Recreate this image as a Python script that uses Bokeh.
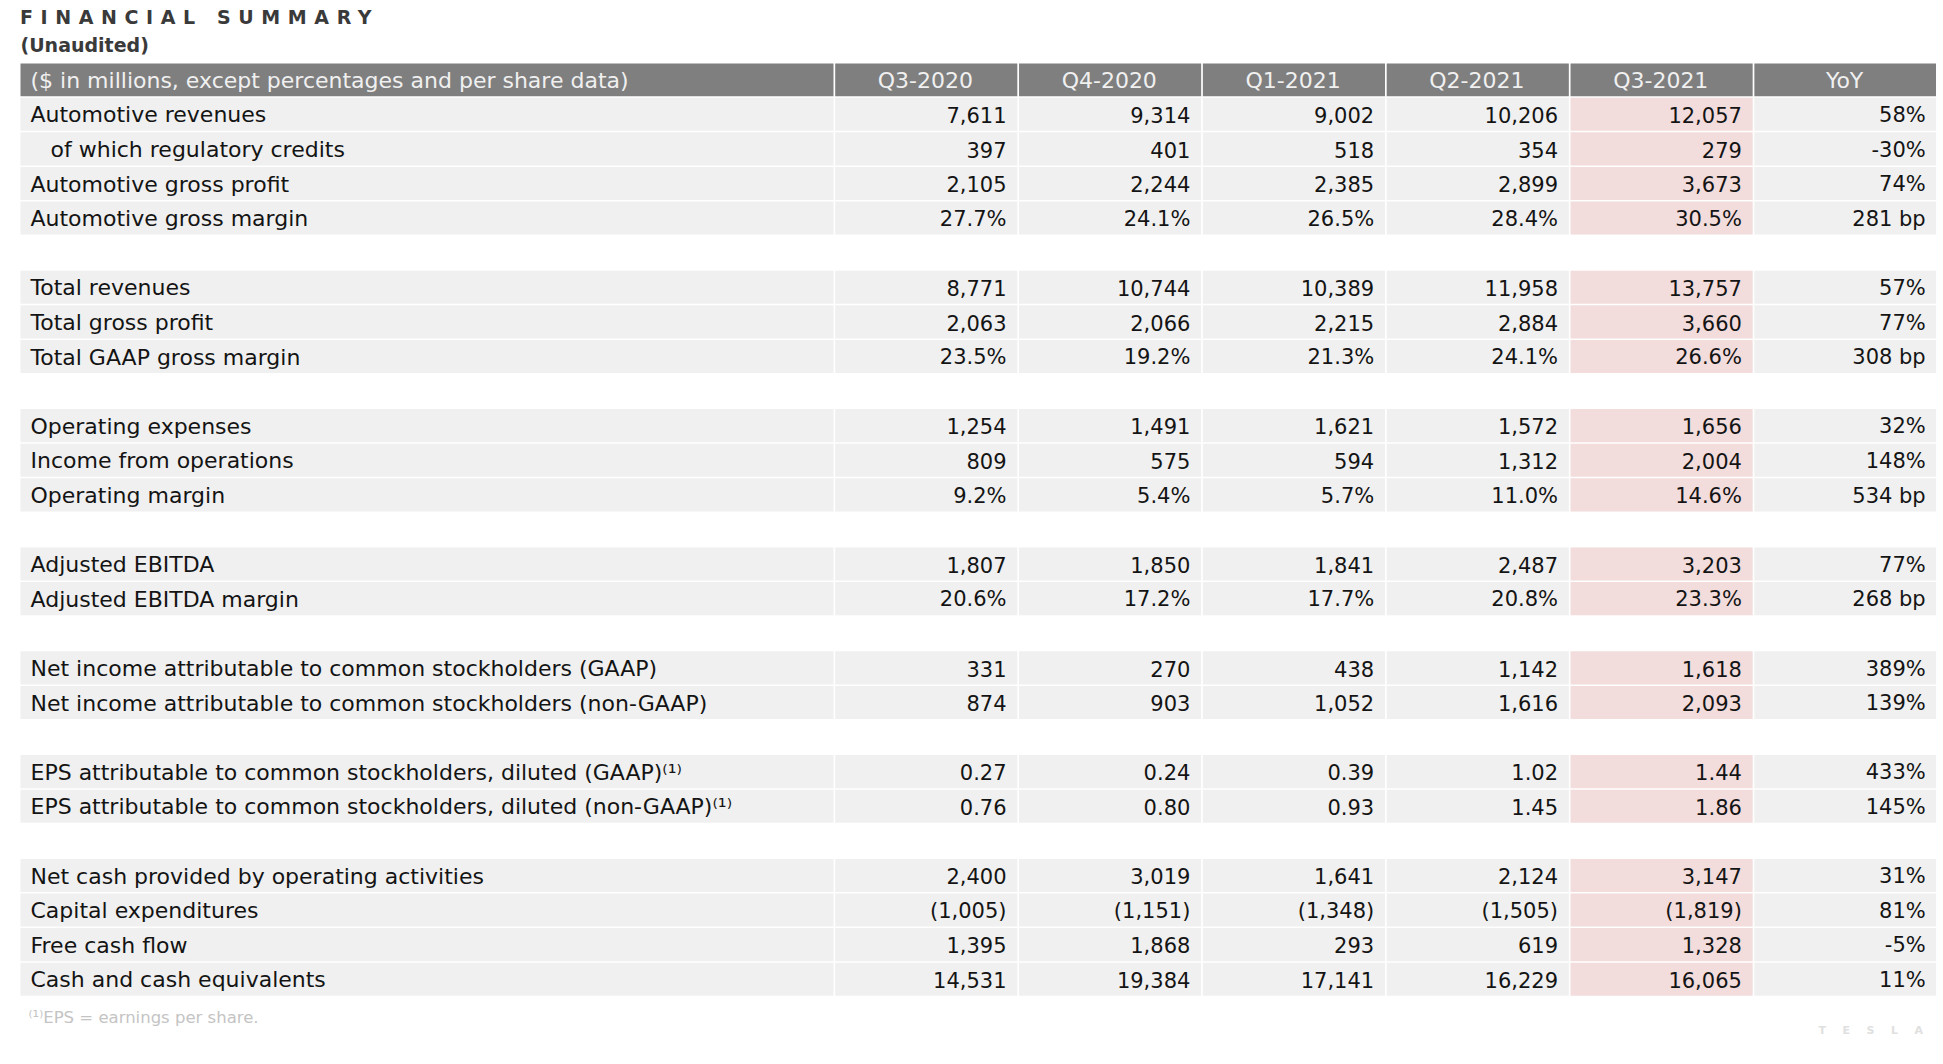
from bokeh.plotting import figure
from bokeh.models import Range1d, Div
from bokeh.layouts import column
from bokeh.core.properties import value
from bokeh.embed import file_html
from bokeh.resources import INLINE

# ---------------- data ----------------
title_text = "FINANCIAL SUMMARY"
subtitle_text = "(Unaudited)"
header_label = "($ in millions, except percentages and per share data)"
periods = ["Q3-2020", "Q4-2020", "Q1-2021", "Q2-2021", "Q3-2021", "YoY"]

row_labels = [
    "Automotive revenues",
    "of which regulatory credits",
    "Automotive gross profit",
    "Automotive gross margin",
    "Total revenues",
    "Total gross profit",
    "Total GAAP gross margin",
    "Operating expenses",
    "Income from operations",
    "Operating margin",
    "Adjusted EBITDA",
    "Adjusted EBITDA margin",
    "Net income attributable to common stockholders (GAAP)",
    "Net income attributable to common stockholders (non-GAAP)",
    "EPS attributable to common stockholders, diluted (GAAP)\u207d\u00b9\u207e",
    "EPS attributable to common stockholders, diluted (non-GAAP)\u207d\u00b9\u207e",
    "Net cash provided by operating activities",
    "Capital expenditures",
    "Free cash flow",
    "Cash and cash equivalents",
]
indented = ["of which regulatory credits"]
group_sizes = [4, 3, 3, 2, 2, 2, 4]

q3_2020 = ["7,611", "397", "2,105", "27.7%", "8,771", "2,063", "23.5%", "1,254", "809", "9.2%",
           "1,807", "20.6%", "331", "874", "0.27", "0.76", "2,400", "(1,005)", "1,395", "14,531"]
q4_2020 = ["9,314", "401", "2,244", "24.1%", "10,744", "2,066", "19.2%", "1,491", "575", "5.4%",
           "1,850", "17.2%", "270", "903", "0.24", "0.80", "3,019", "(1,151)", "1,868", "19,384"]
q1_2021 = ["9,002", "518", "2,385", "26.5%", "10,389", "2,215", "21.3%", "1,621", "594", "5.7%",
           "1,841", "17.7%", "438", "1,052", "0.39", "0.93", "1,641", "(1,348)", "293", "17,141"]
q2_2021 = ["10,206", "354", "2,899", "28.4%", "11,958", "2,884", "24.1%", "1,572", "1,312", "11.0%",
           "2,487", "20.8%", "1,142", "1,616", "1.02", "1.45", "2,124", "(1,505)", "619", "16,229"]
q3_2021 = ["12,057", "279", "3,673", "30.5%", "13,757", "3,660", "26.6%", "1,656", "2,004", "14.6%",
           "3,203", "23.3%", "1,618", "2,093", "1.44", "1.86", "3,147", "(1,819)", "1,328", "16,065"]
yoy = ["58%", "-30%", "74%", "281 bp", "57%", "77%", "308 bp", "32%", "148%", "534 bp",
       "77%", "268 bp", "389%", "139%", "433%", "145%", "31%", "81%", "-5%", "11%"]

footnote = "\u207d\u00b9\u207eEPS = earnings per share."
logo_text = "T\u2002\u2002\u2002E\u2002\u2002\u2002S\u2002\u2002\u2002L\u2002\u2002\u2002A"

# ---------------- layout / styles ----------------
FONT = "DejaVu Sans"
TXT = "#141414"
CELL = "#f0f0f0"
HILITE = "#f2dcdc"
HEAD_BG = "#7f7f7f"
HEAD_TXT = "#f0f0f0"

X0, LABEL_R, TABLE_R = 20.0, 833.0, 1936.0
COL_W = (TABLE_R - LABEL_R) / 6
VGAP = 1.7
HEAD_TOP, HEAD_BOT = 63.0, 95.7
PITCH = 34.6
HGAP = 1.5

TOP_PAGE = 30  # figure top in page coords (Bokeh's page template has no body margin)
W, H = 1936, 1030

p = figure(width=W, height=H, output_backend="svg", toolbar_location=None,
           x_range=Range1d(0, W), y_range=Range1d(TOP_PAGE + H, TOP_PAGE),
           min_border=0, outline_line_color=None)
p.axis.visible = False
p.grid.visible = False
p.background_fill_color = "white"
p.border_fill_color = "white"

# slot index of each data row (blank slot between groups)
slots = []
k = 0
for g, n in enumerate(group_sizes):
    for _ in range(n):
        slots.append(k)
        k += 1
    k += 1

col_values = [q3_2020, q4_2020, q1_2021, q2_2021, q3_2021, yoy]

# ---- cells ----
cl, cr, ct, cb, cc = [], [], [], [], []
for i, s in enumerate(slots):
    top = HEAD_BOT + s * PITCH + HGAP
    bot = HEAD_BOT + (s + 1) * PITCH
    cl.append(X0); cr.append(LABEL_R); ct.append(top); cb.append(bot); cc.append(CELL)
    for j in range(6):
        cl.append(LABEL_R + VGAP + j * COL_W)
        cr.append(LABEL_R + (j + 1) * COL_W)
        ct.append(top); cb.append(bot)
        cc.append(HILITE if j == 4 else CELL)
# header cells
cl.append(X0); cr.append(LABEL_R); ct.append(HEAD_TOP); cb.append(HEAD_BOT); cc.append(HEAD_BG)
for j in range(6):
    cl.append(LABEL_R + VGAP + j * COL_W)
    cr.append(LABEL_R + (j + 1) * COL_W)
    ct.append(HEAD_TOP); cb.append(HEAD_BOT); cc.append(HEAD_BG)

p.quad(left=cl, right=cr, top=ct, bottom=cb, fill_color=cc, line_color=None)

# ---- header texts ----
head_y = (HEAD_TOP + HEAD_BOT) / 2 + 0.8
p.text(x=[30], y=[head_y], text=[header_label], text_font=value(FONT), text_font_size="22px",
       text_color=HEAD_TXT, text_align="left", text_baseline="alphabetic")
p.text(x=[LABEL_R + (j + 0.5) * COL_W for j in range(6)], y=[head_y] * 6, text=periods,
       text_font=value(FONT), text_font_size="22px", text_color=HEAD_TXT,
       text_align="center", text_baseline="alphabetic")

# ---- row labels ----
lx, ly = [], []
for i, s in enumerate(slots):
    lx.append(50 if row_labels[i] in indented else 30)
    ly.append(HEAD_BOT + (s + 0.5) * PITCH + 1.4)
p.text(x=lx, y=ly, text=row_labels, text_font=value(FONT), text_font_size="22px",
       text_color=TXT, text_align="left", text_baseline="alphabetic")

# ---- values ----
vx, vy, vt = [], [], []
for j, vals in enumerate(col_values):
    for i, s in enumerate(slots):
        vx.append(LABEL_R + (j + 1) * COL_W - 10.8)
        vy.append(HEAD_BOT + (s + 0.5) * PITCH + 1.4)
        vt.append(vals[i])
p.text(x=vx, y=vy, text=vt, text_font=value(FONT), text_font_size="21px",
       text_color=TXT, text_align="right", text_baseline="alphabetic")

# ---- subtitle, footnote, logo ----
p.text(x=[20], y=[44], text=[subtitle_text], text_font=value(FONT), text_font_size="19px",
       text_font_style="bold", text_color="#3a3a3a", text_align="left", text_baseline="alphabetic")
p.text(x=[28], y=[1017], text=[footnote], text_font=value(FONT), text_font_size="16.5px",
       text_color="#c4c4c4", text_align="left", text_baseline="alphabetic")
p.text(x=[1818], y=[1030], text=[logo_text], text_font=value(FONT), text_font_size="11px",
       text_font_style="bold", text_color="#e0e0e0", text_align="left", text_baseline="alphabetic")

title = Div(text=title_text, width=W, height=TOP_PAGE, margin=(0, 0, 0, 0),
            styles={"font-family": FONT, "font-size": "19px", "font-weight": "bold",
                    "letter-spacing": "0.4em", "color": "#3a3a3a",
                    "padding-left": "20px", "padding-top": "8px", "line-height": "1",
                    "box-sizing": "border-box", "white-space": "nowrap"})

layout = column(title, p, spacing=0)
open("out.html", "w").write(file_html(layout, INLINE))
